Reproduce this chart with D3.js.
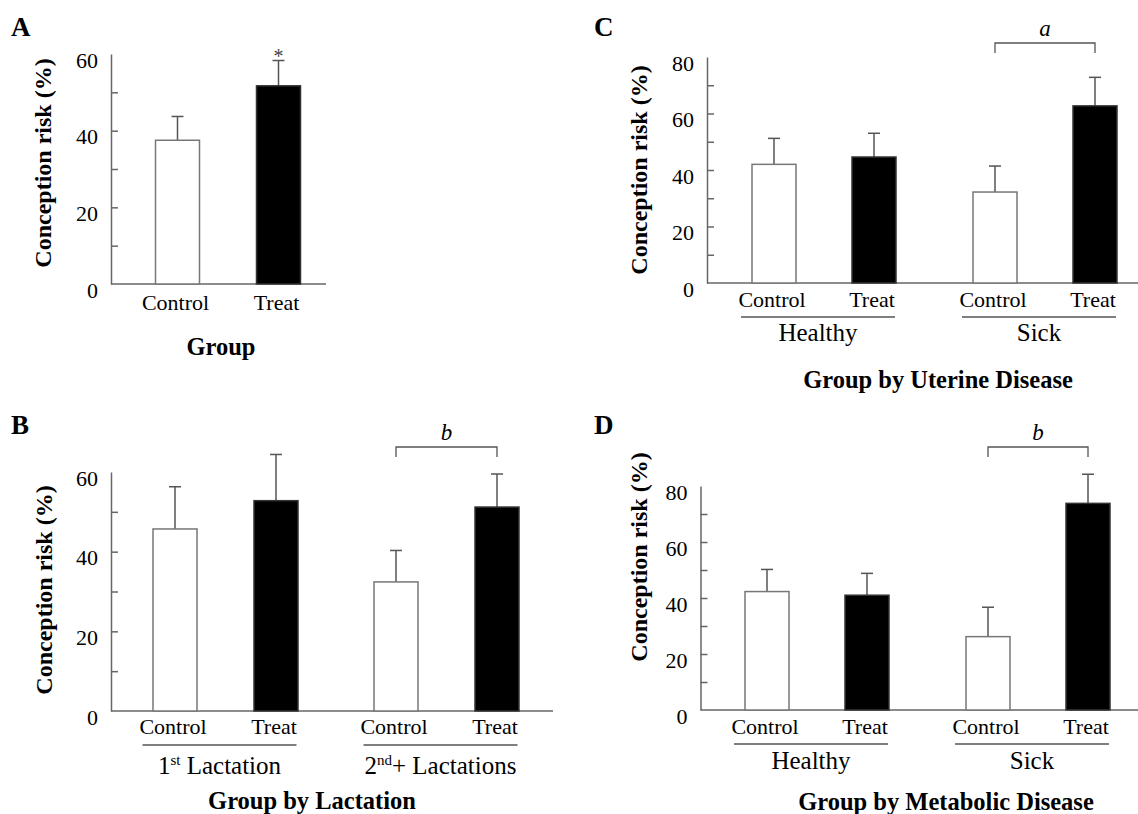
<!DOCTYPE html>
<html>
<head>
<meta charset="utf-8">
<script src="https://cdn.jsdelivr.net/npm/d3@7"></script>
<style>
  body { margin: 0; background: #fff; }
  svg { display: block; }
</style>
</head>
<body>
<svg id="chart" width="1138" height="814"></svg>
<script>
// data (conception risk, %; upper = top of error bar)
const treatments = ["Control", "Treat"];

const groupA = ["All"];
const valuesA = [37.5, 51.7];
const upperA = [43.7, 58.3];

const groupsB = ["1st Lactation", "2nd+ Lactations"];
const valuesB = [45.7, 52.8, 32.4, 51.2];
const upperB = [56.3, 64.4, 40.3, 59.5];

const groupsC = ["Healthy", "Sick"];
const valuesC = [42.0, 44.6, 32.2, 62.7];
const upperC = [51.2, 53.0, 41.4, 72.8];

const groupsD = ["Healthy", "Sick"];
const valuesD = [42.3, 41.0, 26.2, 73.8];
const upperD = [50.2, 48.8, 36.7, 84.2];

// pick the first serif face that is really installed
function pickFont(list) {
  const ctx = document.createElement("canvas").getContext("2d");
  const probe = "Conception risk 0123456789";
  ctx.font = "40px monospace";
  const ref = ctx.measureText(probe).width;
  for (const f of list) {
    ctx.font = `40px "${f}", monospace`;
    if (Math.abs(ctx.measureText(probe).width - ref) > 0.5) return `"${f}", serif`;
  }
  return "serif";
}
const FONT = pickFont(["Liberation Serif", "Times New Roman", "Tinos", "Nimbus Roman", "DejaVu Serif", "Noto Serif"]);

const svg = d3.select("#chart").style("font-family", FONT);

function drawPanel(p) {
  const g = svg.append("g").attr("font-family", FONT).attr("fill", "#000");

  const y = d3.scaleLinear().domain([0, p.yMax]).range([p.base, p.top]);
  const gx = d3.scalePoint().domain(p.groups).range(p.groupRange);
  const ix = d3.scalePoint().domain(treatments).range([-p.inner, p.inner]);

  const rows = [];
  p.groups.forEach((grp, gi) => {
    treatments.forEach((t, ti) => {
      const k = gi * 2 + ti;
      rows.push({ grp, t, v: p.values[k], up: p.upper[k], cx: gx(grp) + ix(t) });
    });
  });

  // y axis: inward minor ticks every 10, labels every 20
  const minor = d3.range(10, p.yMax, 10);
  g.append("g")
    .attr("transform", `translate(${p.axisX},0)`)
    .call(d3.axisRight(y).tickValues(minor).tickSize(7).tickSizeOuter(0).tickFormat(""))
    .call(a => a.selectAll("path, line").attr("stroke", "#666").attr("stroke-width", 1.5));

  g.append("g")
    .attr("transform", `translate(${p.axisX},0)`)
    .call(d3.axisLeft(y).tickValues(d3.range(0, p.yMax + 1, 20)).tickSize(0).tickPadding(13))
    .call(a => a.select(".domain").remove())
    .call(a => a.attr("font-family", FONT).attr("font-size", 22))
    .call(a => a.selectAll("text").attr("dy", "0.6em").attr("fill", "#000"));

  // x axis baseline
  g.append("line")
    .attr("x1", p.axisX).attr("x2", p.axisEnd)
    .attr("y1", y(0)).attr("y2", y(0))
    .attr("stroke", "#666").attr("stroke-width", 1.5);

  // error bars
  const eb = g.selectAll(".err").data(rows).enter().append("g");
  eb.append("line")
    .attr("x1", d => d.cx).attr("x2", d => d.cx)
    .attr("y1", d => y(d.v)).attr("y2", d => y(d.up))
    .attr("stroke", "#555").attr("stroke-width", 1.5);
  eb.append("line")
    .attr("x1", d => d.cx - 6).attr("x2", d => d.cx + 6)
    .attr("y1", d => y(d.up)).attr("y2", d => y(d.up))
    .attr("stroke", "#555").attr("stroke-width", 1.5);

  // bars
  g.selectAll(".bar").data(rows).enter().append("rect")
    .attr("x", d => d.cx - p.barW / 2)
    .attr("width", p.barW)
    .attr("y", d => y(d.v))
    .attr("height", d => y(0) - y(d.v))
    .attr("fill", d => d.t === "Control" ? "#fff" : "#000")
    .attr("stroke", d => d.t === "Control" ? "#777" : "#333")
    .attr("stroke-width", 1.5);

  // treatment labels
  g.selectAll(".cat").data(rows).enter().append("text")
    .attr("x", d => d.cx - 2)
    .attr("y", p.catY)
    .attr("text-anchor", "middle")
    .attr("font-size", 22)
    .text(d => d.t);

  // group underlines + labels
  if (p.groupLabels) {
    p.groups.forEach((grp, gi) => {
      const c = gx(grp);
      g.append("line")
        .attr("x1", c - 83).attr("x2", c + 71)
        .attr("y1", p.lineY).attr("y2", p.lineY)
        .attr("stroke", "#555").attr("stroke-width", 1.3);
      const t = g.append("text")
        .attr("x", c - 6)
        .attr("y", p.groupY)
        .attr("text-anchor", "middle")
        .attr("font-size", 25);
      p.groupLabels[gi](t);
    });
  }

  // x title
  g.append("text")
    .attr("x", p.titleX).attr("y", p.titleY)
    .attr("text-anchor", "middle")
    .attr("font-size", 24.5).attr("font-weight", "bold")
    .text(p.title);

  // y title
  g.append("text")
    .attr("transform", `translate(${p.yTitleX},${p.yTitleY}) rotate(-90)`)
    .attr("text-anchor", "middle")
    .attr("font-size", 24).attr("font-weight", "bold")
    .text("Conception risk (%)");

  // panel letter
  g.append("text")
    .attr("x", p.letterX).attr("y", p.letterY)
    .attr("font-size", 27).attr("font-weight", "bold")
    .text(p.letter);

  // significance marks
  if (p.sig) {
    const s = p.sig;
    const r0 = rows[s.from], r1 = rows[s.to];
    if (s.bracket) {
      g.append("path")
        .attr("d", `M${r0.cx},${s.y + 10}V${s.y}H${r1.cx}V${s.y + 10}`)
        .attr("fill", "none").attr("stroke", "#555").attr("stroke-width", 1.3);
      g.append("text")
        .attr("x", (r0.cx + r1.cx) / 2).attr("y", s.y - 7)
        .attr("text-anchor", "middle")
        .attr("font-size", 23).attr("font-style", "italic")
        .text(s.label);
    } else {
      g.append("text")
        .attr("x", r1.cx).attr("y", y(r1.up) + 2)
        .attr("text-anchor", "middle")
        .attr("font-size", 20)
        .attr("fill", "#444")
        .text(s.label);
    }
  }
}

drawPanel({
  letter: "A", letterX: 11, letterY: 36,
  groups: groupA, groupRange: [228, 228], inner: 50.5,
  values: valuesA, upper: upperA, yMax: 60,
  axisX: 111, axisEnd: 326, base: 284, top: 54, barW: 44,
  catY: 310, title: "Group", titleX: 221, titleY: 355,
  yTitleX: 51, yTitleY: 163,
  sig: { from: 0, to: 1, label: "*", bracket: false }
});

drawPanel({
  letter: "B", letterX: 11, letterY: 434,
  groups: groupsB, groupRange: [225.5, 446.5], inner: 50.5,
  values: valuesB, upper: upperB, yMax: 60,
  axisX: 111, axisEnd: 553, base: 711, top: 472, barW: 44,
  catY: 734, lineY: 745, groupY: 774,
  groupLabels: [
    t => { t.append("tspan").text("1"); t.append("tspan").attr("dy", -9).attr("font-size", 15).text("st");
           t.append("tspan").attr("dy", 9).text(" Lactation"); },
    t => { t.append("tspan").text("2"); t.append("tspan").attr("dy", -9).attr("font-size", 15).text("nd");
           t.append("tspan").attr("dy", 9).text("+ Lactations"); }
  ],
  title: "Group by Lactation", titleX: 312, titleY: 809,
  yTitleX: 52, yTitleY: 590,
  sig: { from: 2, to: 3, label: "b", bracket: true, y: 447 }
});

drawPanel({
  letter: "C", letterX: 594, letterY: 36,
  groups: groupsC, groupRange: [824, 1045], inner: 50,
  values: valuesC, upper: upperC, yMax: 80,
  axisX: 707, axisEnd: 1140, base: 283, top: 57, barW: 44,
  catY: 307, lineY: 317, groupY: 341,
  groupLabels: [t => t.text("Healthy"), t => t.text("Sick")],
  title: "Group by Uterine Disease", titleX: 938, titleY: 388,
  yTitleX: 647, yTitleY: 170,
  sig: { from: 2, to: 3, label: "a", bracket: true, y: 43 }
});

drawPanel({
  letter: "D", letterX: 594, letterY: 434,
  groups: groupsD, groupRange: [817, 1038], inner: 50,
  values: valuesD, upper: upperD, yMax: 80,
  axisX: 700.5, axisEnd: 1140, base: 710, top: 486, barW: 44,
  catY: 734, lineY: 744, groupY: 769,
  groupLabels: [t => t.text("Healthy"), t => t.text("Sick")],
  title: "Group by Metabolic Disease", titleX: 946, titleY: 810,
  yTitleX: 647, yTitleY: 557,
  sig: { from: 2, to: 3, label: "b", bracket: true, y: 447 }
});
</script>
</body>
</html>
